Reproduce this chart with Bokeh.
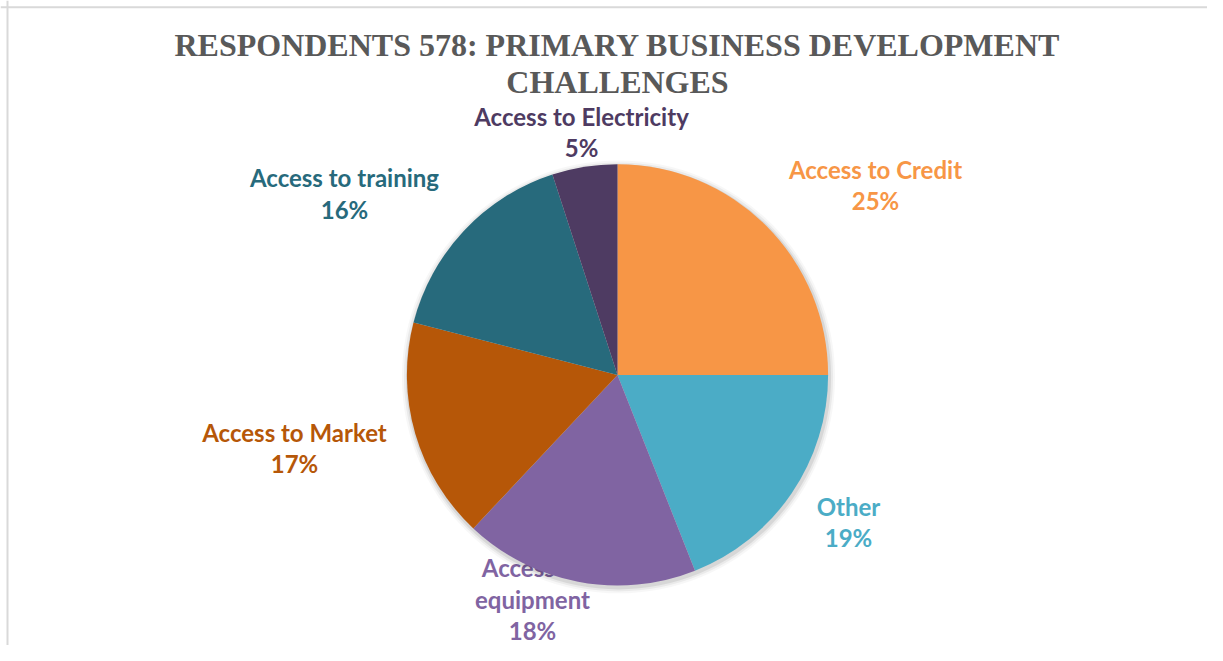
import numpy as np
from bokeh.plotting import figure
from bokeh.models import Range1d, Span
from bokeh.core.properties import value
from bokeh.embed import file_html
from bokeh.resources import INLINE

# ---- data ----
categories = ["Access to Credit", "Other", "Access to equipment", "Access to Market",
              "Access to training", "Access to Electricity"]
shares = [25, 19, 18, 17, 16, 5]
colors = ["#F79646", "#4BACC6", "#8064A2", "#B65708", "#276A7C", "#4E3B62"]
title_lines = ["RESPONDENTS 578: PRIMARY BUSINESS DEVELOPMENT", "CHALLENGES"]

# ---- layout ----
W, H = 1207, 645
S = 0.975  # vertical compression so everything fits

def sy(y):  # reference-like y (from top) -> data y
    return H - y * S

p = figure(width=W, height=H, output_backend="svg", toolbar_location=None,
           x_range=Range1d(0, W), y_range=Range1d(0, H),
           min_border=0, min_border_left=0, min_border_right=0,
           min_border_top=0, min_border_bottom=0)
p.axis.visible = False
p.grid.visible = False
p.outline_line_color = None
p.background_fill_color = "white"
p.border_fill_color = "white"

cx, cy, R = 617, sy(384), 216 * S

label_font = value("Lato")
fs = "24px"

# label for equipment's first line sits under the pie (as in original)
p.text(x=[532], y=[sy(582)], text=["Access to"], text_font=label_font,
       text_font_style="bold", text_font_size=fs, text_color=colors[2],
       text_align="center", text_baseline="middle")

# soft shadow
for dr, a in [(6, 0.03), (4, 0.05), (2, 0.08)]:
    p.circle(x=[cx + 1], y=[cy - 2], radius=R + dr, fill_color="black",
             fill_alpha=a, line_color=None)

fr = np.array(shares, dtype=float) / sum(shares)
cum = np.concatenate([[0], np.cumsum(fr)])
starts = np.pi / 2 - 2 * np.pi * cum[:-1]
ends = np.pi / 2 - 2 * np.pi * cum[1:]
p.wedge(x=cx, y=cy, radius=R, start_angle=list(ends), end_angle=list(starts),
        direction="anticlock", fill_color=colors, line_color=None)

# labels: (lines, center x, first line y)
label_pos = {
    "Access to Credit": (["Access to Credit"], 875, 173),
    "Other": (["Other"], 848, 519),
    "Access to equipment": (["equipment"], 532, 614),
    "Access to Market": (["Access to Market"], 294, 443),
    "Access to training": (["Access to training"], 344, 182),
    "Access to Electricity": (["Access to Electricity"], 581, 119),
}
lh = 32
for cat, s, col in zip(categories, shares, colors):
    lines, lx, ly = label_pos[cat]
    lines = lines + [f"{s}%"]
    ys = [sy(ly + i * lh) for i in range(len(lines))]
    p.text(x=[lx] * len(lines), y=ys, text=lines, text_font=label_font,
           text_font_style="bold", text_font_size=fs, text_color=col,
           text_align="center", text_baseline="middle")

# title
p.text(x=[617, 617], y=[sy(46), sy(84)], text=title_lines,
       text_font=value("Liberation Serif"), text_font_style="bold",
       text_font_size="32px", text_color="#595959",
       text_align="center", text_baseline="middle")

# chart area border (left & top visible)
p.add_layout(Span(location=7, dimension="height", line_color="#D9D9D9", line_width=2))
p.add_layout(Span(location=sy(7), dimension="width", line_color="#D9D9D9", line_width=2))

open("out.html", "w").write(file_html(p, INLINE))
